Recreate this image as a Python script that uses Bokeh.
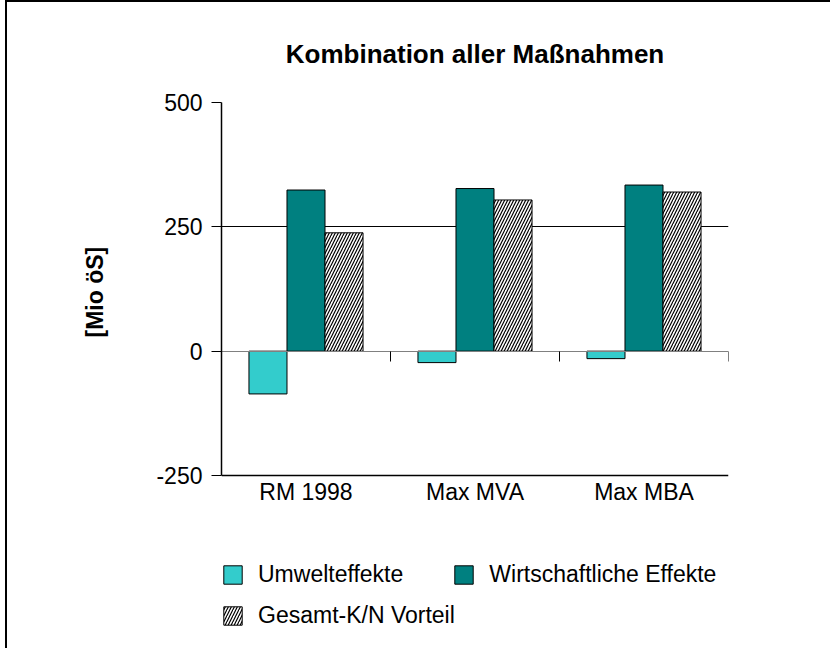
from bokeh.plotting import figure
from bokeh.models import (ColumnDataSource, Range1d, FixedTicker, Grid, Title,
                          LinearAxis, Legend, LegendItem)
from bokeh.transform import dodge
from bokeh.embed import file_html
from bokeh.resources import INLINE

# ---- data ----
categories = ["RM 1998", "Max MVA", "Max MBA"]
umwelt = [-86, -23, -15]
wirtschaft = [324, 327, 334]
gesamt = [238, 304, 320]
series_names = ["Umwelteffekte", "Wirtschaftliche Effekte", "Gesamt-K/N Vorteil"]
y_ticks = [-250, 0, 250, 500]
y_tick_labels = ["-250", "0", "250", "500"]

title_text = "Kombination aller Maßnahmen"
y_label = "[Mio öS]"

FONT = "Liberation Sans"

# ---- layout constants (pixels) ----
FIG_W, FIG_H = 823, 646
LEFT, RIGHT, TOP = 214, 102, 100
PLOT_PX = 373          # pixel height of the value axis span

n = len(categories)
centers = [i + 0.5 for i in range(n)]          # category slot centres
bounds = list(range(n + 1))                    # category slot boundaries

y_lo, y_hi = y_ticks[0], y_ticks[-1]
# frame extends below the value axis so the legend can live inside it
y_frame_lo = y_hi - (y_hi - y_lo) * (FIG_H - TOP) / PLOT_PX

src = ColumnDataSource(dict(pos=centers, cat=categories, umwelt=umwelt,
                            wirtschaft=wirtschaft, gesamt=gesamt))

p = figure(width=FIG_W, height=FIG_H,
           x_range=Range1d(0, n),
           y_range=Range1d(y_frame_lo, y_hi),
           output_backend="svg", toolbar_location=None,
           min_border_left=LEFT, min_border_right=RIGHT,
           min_border_top=TOP, min_border_bottom=0,
           title=title_text)

p.styles = {"margin-left": "7px", "margin-top": "2px",
            "outline": "2px solid black"}

p.background_fill_color = "white"
p.border_fill_color = "white"
p.outline_line_color = None

# title
p.title.align = "center"
p.title.text_font = FONT
p.title.text_font_size = "26px"
p.title.text_font_style = "bold"
p.title.text_color = "black"
p.title.standoff = 68

# grid: inner gridline + plot-area border lines
p.xgrid.visible = False
p.ygrid.ticker = FixedTicker(ticks=[250])
p.ygrid.grid_line_color = "black"
p.ygrid.grid_line_width = 1
p.ygrid.bounds = (0, n)
p.add_layout(Grid(dimension=1, ticker=FixedTicker(ticks=[y_lo, y_hi]),
                  grid_line_color="black", grid_line_width=1.5))
p.add_layout(Grid(dimension=0, ticker=FixedTicker(ticks=[n]), bounds=(y_lo, y_hi),
                  grid_line_color="black", grid_line_width=1.5))

# y axis
p.yaxis.bounds = (y_lo, y_hi)
p.yaxis.ticker = FixedTicker(ticks=y_ticks)
p.yaxis.major_label_overrides = {t: s for t, s in zip(y_ticks, y_tick_labels)}
p.yaxis.axis_line_color = "black"
p.yaxis.axis_line_width = 1.5
p.yaxis.major_tick_out = 10
p.yaxis.major_tick_in = 0
p.yaxis.major_tick_line_color = "black"
p.yaxis.minor_tick_line_color = None
p.yaxis.major_label_standoff = 9
p.yaxis.major_label_text_font = FONT
p.yaxis.major_label_text_font_size = "23px"
p.yaxis.major_label_text_color = "black"

# y axis title, placed beside the value span (not the whole frame)
ytitle = Title(text=y_label, align="left", offset=311, standoff=92,
               text_font=FONT, text_font_size="23px", text_font_style="bold",
               text_color="black")
p.add_layout(ytitle, "left")

# x axis: category labels under the plot area
p.xaxis.fixed_location = y_lo
p.xaxis.ticker = FixedTicker(ticks=centers)
p.xaxis.major_label_overrides = {c: lab for c, lab in zip(centers, categories)}
p.xaxis.axis_line_color = None
p.xaxis.major_tick_line_color = None
p.xaxis.minor_tick_line_color = None
p.xaxis.major_tick_out = 0
p.xaxis.major_tick_in = 0
p.xaxis.major_label_standoff = 3
p.xaxis.major_label_text_font = FONT
p.xaxis.major_label_text_font_size = "23px"
p.xaxis.major_label_text_color = "black"

# zero line with category boundary ticks
zax = LinearAxis(fixed_location=0,
                 ticker=FixedTicker(ticks=bounds),
                 axis_line_color="#808080", axis_line_width=1,
                 major_tick_line_color="black", major_tick_out=10, major_tick_in=0,
                 minor_tick_line_color=None,
                 major_label_overrides={b: "" for b in bounds})
p.add_layout(zax, "below")

bw = 0.225
r1 = p.vbar(x=dodge("pos", -bw), top="umwelt", width=bw,
            source=src, fill_color="#33CCCC", line_color="black", line_width=1)
r2 = p.vbar(x=dodge("pos", 0), top="wirtschaft", width=bw,
            source=src, fill_color="#008080", line_color="black", line_width=1)
r3 = p.vbar(x=dodge("pos", bw), top="gesamt", width=bw,
            source=src, fill_color="white", line_color="black", line_width=1,
            hatch_pattern="/", hatch_color="black", hatch_scale=6, hatch_weight=1.2)


def style_legend(lg):
    lg.padding = 0
    lg.margin = 0
    lg.border_line_color = None
    lg.background_fill_alpha = 0
    lg.glyph_width = 23
    lg.glyph_height = 23
    lg.label_standoff = 14
    lg.label_height = 23
    lg.label_text_font = FONT
    lg.label_text_font_size = "23px"
    lg.label_text_color = "black"


legA = Legend(items=[LegendItem(label=series_names[0], renderers=[r1]),
                     LegendItem(label=series_names[1], renderers=[r2])],
              orientation="horizontal", location=(0, 60), spacing=49)
style_legend(legA)
legB = Legend(items=[LegendItem(label=series_names[2], renderers=[r3])],
              orientation="horizontal", location=(0, 19))
style_legend(legB)
p.add_layout(legA)
p.add_layout(legB)

open("out.html", "w").write(file_html(p, INLINE))
